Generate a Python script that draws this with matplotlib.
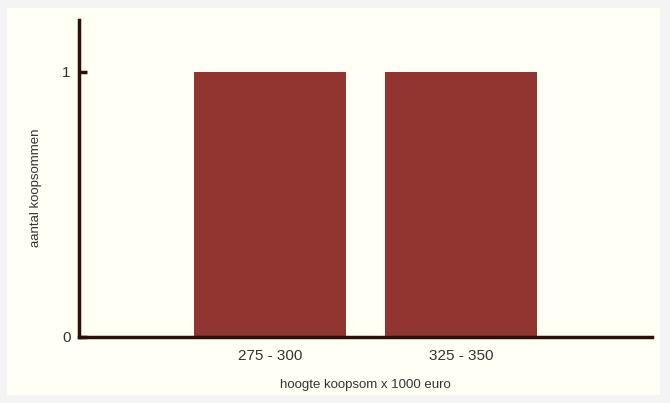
import matplotlib.pyplot as plt
from matplotlib.patches import Rectangle

plt.rcParams['font.family'] = ['Liberation Sans', 'DejaVu Sans']

categorieen = ['275 - 300', '325 - 350']
aantallen = [1, 1]

fig = plt.figure(figsize=(6.7, 4.03), dpi=100)
fig.patch.set_facecolor('#f4f4f4')
fig.patches.append(Rectangle((7 / 670, 1 - 395 / 403), 653 / 670, 387 / 403,
                             transform=fig.transFigure, facecolor='#fffff5',
                             edgecolor='none', zorder=-10))

ax = fig.add_axes([79 / 670, 1 - 337 / 403, 573 / 670, 317 / 403])
ax.set_facecolor('none')
ax.bar(range(len(categorieen)), aantallen, width=0.8, color='#923430')

ax.set_xlim(-1, 2)
ax.set_ylim(0, 1.196)
ax.set_xticks(range(len(categorieen)))
ax.set_xticklabels(categorieen)
ax.set_yticks([0, 1])

for s in ['top', 'right']:
    ax.spines[s].set_visible(False)
for s in ['left', 'bottom']:
    ax.spines[s].set_color('#2b0f08')
    ax.spines[s].set_linewidth(2.5)

ax.tick_params(axis='x', length=0, pad=9, labelsize=11, labelcolor='#333333')
ax.tick_params(axis='y', direction='in', length=6, width=2.5, color='#2b0f08',
               pad=6, labelsize=11, labelcolor='#333333')

ax.set_xlabel('hoogte koopsom x 1000 euro', fontsize=9.5, color='#333333', labelpad=11)
ax.set_ylabel('aantal koopsommen', fontsize=9.5, color='#333333', labelpad=12)
ax.yaxis.set_label_coords(-0.065, 0.47)

fig.savefig('out.png', dpi=100, facecolor=fig.get_facecolor())
